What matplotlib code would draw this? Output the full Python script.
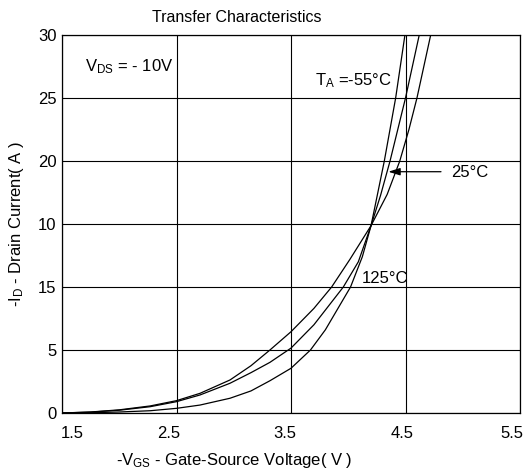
import matplotlib
matplotlib.use("Agg")
import matplotlib.pyplot as plt
import matplotlib.transforms as mtransforms

plt.rcParams['font.family'] = ['Liberation Sans', 'DejaVu Sans']
plt.rcParams['mathtext.fontset'] = 'custom'
plt.rcParams['mathtext.rm'] = 'Liberation Sans'
plt.rcParams['mathtext.it'] = 'Liberation Sans'

# Data (y in axis-position units; tick labels as printed in the original)
vgs_125 = [1.5, 1.75, 2.0, 2.27, 2.5, 2.705, 2.967, 3.15, 3.316, 3.5, 3.7, 3.855, 4.015, 4.199, 4.34, 4.45, 4.53, 4.6, 4.72]
id_125 = [0.0, 0.08, 0.25, 0.56, 0.98, 1.56, 2.62, 3.75, 5.0, 6.45, 8.3, 10.0, 12.2, 14.87, 17.35, 20.0, 22.5, 25.0, 30.0]

vgs_25 = [1.5, 1.75, 2.0, 2.27, 2.5, 2.705, 2.967, 3.15, 3.316, 3.5, 3.7, 3.957, 4.088, 4.199, 4.283, 4.365, 4.5, 4.62]
id_25 = [0.0, 0.07, 0.22, 0.5, 0.9, 1.43, 2.36, 3.2, 4.02, 5.15, 7.0, 10.0, 12.0, 14.87, 17.3, 20.0, 25.0, 30.0]

vgs_m55 = [1.5, 1.75, 2.0, 2.27, 2.5, 2.705, 2.967, 3.15, 3.316, 3.5, 3.67, 3.8, 4.02, 4.123, 4.199, 4.254, 4.315, 4.414, 4.495]
id_m55 = [0.0, 0.02, 0.08, 0.18, 0.37, 0.63, 1.17, 1.75, 2.56, 3.55, 5.0, 6.6, 10.0, 12.4, 14.87, 17.3, 20.0, 25.0, 30.0]

x_ticks = [1.5, 2.5, 3.5, 4.5, 5.5]
x_tick_labels = ['1.5', '2.5', '3.5', '4.5', '5.5']
y_ticks = [0, 5, 10, 15, 20, 25, 30]
y_tick_labels = ['0', '5', '15', '10', '20', '25', '30']

W, H = 526, 473
fig = plt.figure(figsize=(W / 100, H / 100), dpi=100)
ax = fig.add_axes([62 / W, 1 - 413 / H, (520 - 62) / W, (413 - 35) / H])

for xs, ys in [(vgs_125, id_125), (vgs_25, id_25), (vgs_m55, id_m55)]:
    ax.plot(xs, ys, color='black', lw=0.9, clip_on=True, solid_joinstyle='round')

ax.set_xlim(1.5, 5.5)
ax.set_ylim(0, 30)
ax.set_xticks(x_ticks)
ax.set_xticklabels(x_tick_labels)
ax.set_yticks(y_ticks)
ax.set_yticklabels(y_tick_labels)
ax.tick_params(length=0, labelsize=12)
ax.tick_params(axis='x', pad=9)
ax.tick_params(axis='y', pad=4)
ax.grid(True, color='black', lw=0.8)
for s in ax.spines.values():
    s.set_linewidth(0.9)
    s.set_color('black')

# small horizontal shifts of x tick labels, as in the original
x_label_shift_px = [10, -8, -6, -3, -8]
for lab, dx in zip(ax.get_xticklabels(), x_label_shift_px):
    lab.set_transform(lab.get_transform() + mtransforms.ScaledTranslation(dx / 100, 0, fig.dpi_scale_trans))

ax.set_xlabel(r'-V$_{\mathrm{GS}}$ - Gate-Source Voltage( V )', fontsize=12)
ax.xaxis.set_label_coords((234 - 62) / (520 - 62), -(460 - 413) / (413 - 35))
ax.xaxis.label.set_va('center')
ax.set_ylabel(r'-I$_{\mathrm{D}}$ - Drain Current( A )', fontsize=12)
ax.yaxis.set_label_coords(-(62 - 17) / (520 - 62), 0.5)
ax.yaxis.label.set_va('center')

fig.text(237 / W, 1 - 18 / H, 'Transfer Characteristics', ha='center', va='center', fontsize=11.5)

ax.text(1.70, 27.5, r'V$_{\mathrm{DS}}$ = - 10V', fontsize=12, va='center', ha='left')
ax.text(3.71, 26.4, r'T$_{\mathrm{A}}$ =-55°C', fontsize=12, va='center', ha='left')
ax.text(4.90, 19.1, '25°C', fontsize=12, va='center', ha='left')
ax.text(4.12, 10.7, '125°C', fontsize=12, va='center', ha='left')
ax.annotate('', xy=(4.35, 19.15), xytext=(4.81, 19.15),
            arrowprops=dict(arrowstyle='-|>,head_length=0.7,head_width=0.22', color='black', lw=0.9,
                            shrinkA=0, shrinkB=0))

fig.savefig('out.png', dpi=100)
